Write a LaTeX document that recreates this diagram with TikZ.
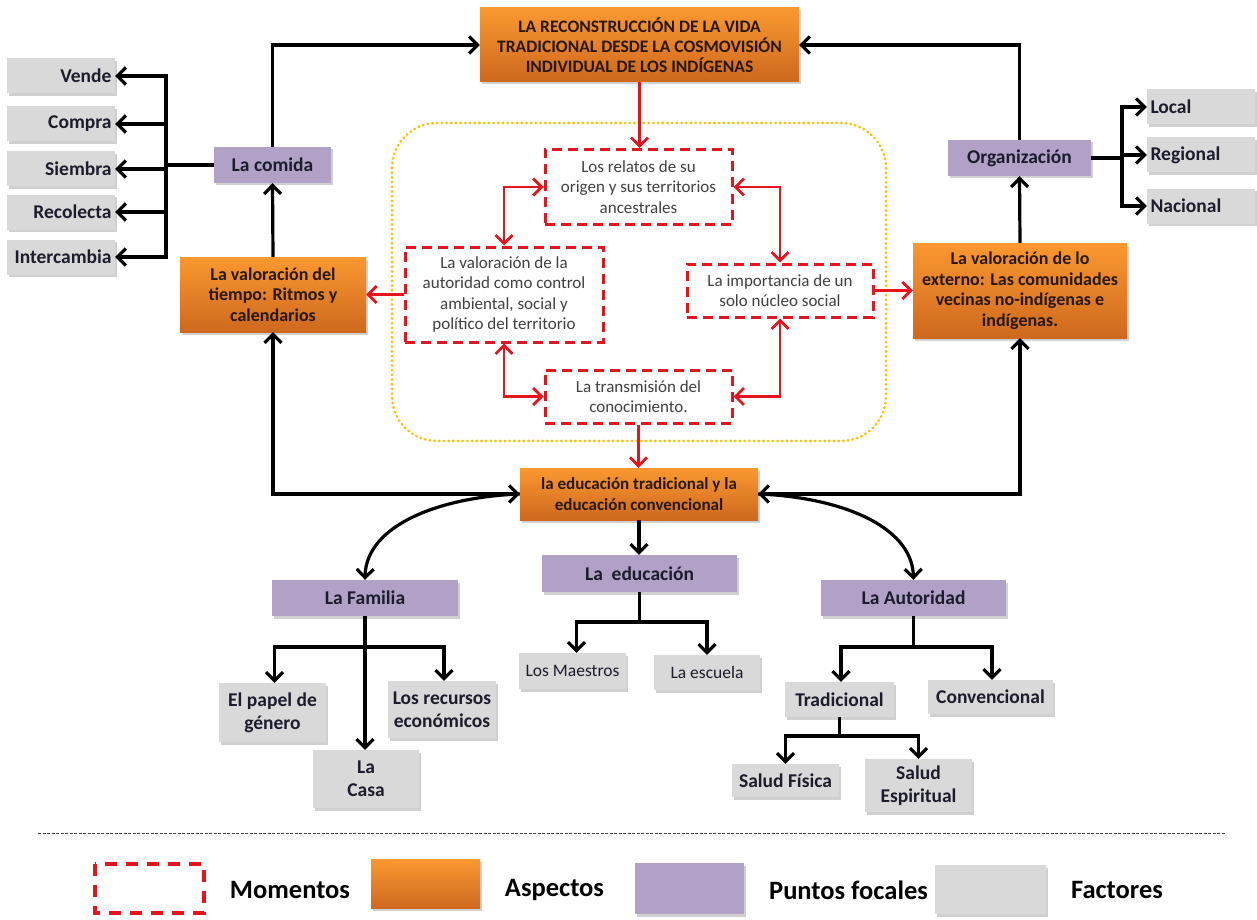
\documentclass[tikz,border=0pt]{standalone}
\usepackage{fontspec}
\setmainfont{Carlito}
\usetikzlibrary{arrows.meta,shadows}
\definecolor{or1}{RGB}{250,152,48}
\definecolor{or2}{RGB}{206,104,30}
\definecolor{purp}{RGB}{177,161,199}
\definecolor{gry}{RGB}{217,217,217}
\definecolor{red1}{RGB}{232,20,28}
\definecolor{yel}{RGB}{255,192,0}
\definecolor{txt}{RGB}{28,28,45}
\definecolor{txtO}{RGB}{40,25,15}
\definecolor{txtM}{RGB}{64,64,64}
\tikzset{
  shad/.style={drop shadow={shadow xshift=2pt,shadow yshift=-2.5pt,opacity=0.3,fill=black!60}},
  basebox/.style={inner sep=0pt, align=center, font=\bfseries\fontsize{19.5}{23}\selectfont, text=txt},
  aspect/.style={basebox, top color=or1, bottom color=or2, draw=none, shad, font=\bfseries\fontsize{18}{20.5}\selectfont, text=txtO},
  focal/.style={basebox, fill=purp, shad},
  factor/.style={basebox, fill=gry, shad},
  factorR/.style={factor, text width=101pt, inner xsep=3.5pt, align=right},
  factorL/.style={factor, text width=101pt, inner xsep=3.5pt, align=left},
  moment/.style={draw=red1, line width=3pt, dash pattern=on 10pt off 6pt, fill=white, inner sep=0pt, align=center, font=\fontsize{17}{20.5}\selectfont, text=txtM},
  blk/.style={line width=3.2pt, black, ->},
  blkb/.style={line width=3.2pt, black, <->},
  rd/.style={line width=2.8pt, red1, ->},
  rdb/.style={line width=2.8pt, red1, <->},
  legtxt/.style={font=\bfseries\fontsize{26.5}{30}\selectfont, text=black},
}
\begin{document}
\begin{tikzpicture}[x=1pt,y=-1pt,>={Straight Barb[length=8.5pt,width=17pt]}]
\useasboundingbox (0,0) rectangle (1257,920);
\fill[white] (0,0) rectangle (1257,920);

% yellow dotted frame
\draw[yel, line width=3pt, dash pattern=on 0.1pt off 4.6pt, line cap=round, rounded corners=45pt] (392,123) rectangle (886,441);

% aspects
\node[aspect, minimum width=319pt, minimum height=74pt, font=\bfseries\fontsize{17.5}{20}\selectfont] (top) at (639.5,45) {LA RECONSTRUCCIÓN DE LA VIDA\\TRADICIONAL DESDE LA COSMOVISIÓN\\INDIVIDUAL DE LOS INDÍGENAS};
\node[aspect, minimum width=186pt, minimum height=75pt] (tiempo) at (273,294.5) {La valoración del\\tiempo: Ritmos y\\calendarios};
\node[aspect, minimum width=214pt, minimum height=95pt] (externo) at (1020,290.5) {La valoración de lo\\externo: Las comunidades\\vecinas no-indígenas e\\indígenas.};
\node[aspect, minimum width=238pt, minimum height=52pt, font=\bfseries\fontsize{17}{20.5}\selectfont] (edu) at (639,494) {la educación tradicional y la\\educación convencional};

% moments
\node[moment, minimum width=187pt, minimum height=75pt] (relatos) at (638.5,187) {Los relatos de su\\origen y sus territorios\\ancestrales};
\node[moment, minimum width=198pt, minimum height=95pt] (autm) at (504,294.5) {La valoración de la\\autoridad como control\\ambiental, social y\\político del territorio};
\node[moment, minimum width=186pt, minimum height=53pt] (impo) at (780,290.5) {La importancia de un\\solo núcleo social};
\node[moment, minimum width=187pt, minimum height=53pt] (trans) at (638.5,396.5) {La transmisión del\\conocimiento.};

% focal points
\node[focal, minimum width=117pt, minimum height=36pt] (comida) at (272.5,165) {La comida};
\node[focal, minimum width=143pt, minimum height=36pt] (org) at (1019.5,158) {Organización};
\node[focal, minimum width=186pt, minimum height=36pt] (familia) at (365,598) {La Familia};
\node[focal, minimum width=195pt, minimum height=37pt] (educ) at (639.5,573.5) {La\ \ educación};
\node[focal, minimum width=185pt, minimum height=36pt] (autor) at (913.5,598) {La Autoridad};

% factors left
\node[factorR, minimum height=35pt] (vende) at (61,76) {Vende};
\node[factorR, minimum height=35pt] (compra) at (61,124) {Compra};
\node[factorR, minimum height=35pt] (siembra) at (61,169) {Siembra};
\node[factorR, minimum height=35pt] (recol) at (61,212) {Recolecta};
\node[factorR, minimum height=35pt] (inter) at (61,257) {Intercambia};
% factors right
\node[factorL, minimum height=35pt] (local) at (1201,107) {Local};
\node[factorL, minimum height=35pt] (regional) at (1201,155) {Regional};
\node[factorL, minimum height=35pt] (nacional) at (1201,206) {Nacional};
% factors bottom
\node[factor, minimum width=107pt, minimum height=59pt] (papel) at (272.5,712.5) {El papel de\\género};
\node[factor, minimum width=108pt, minimum height=57pt] (recursos) at (442,709.5) {Los recursos\\económicos};
\node[factor, minimum width=106pt, minimum height=58pt] (casa) at (366,779) {La\\Casa};
\node[factor, minimum width=107pt, minimum height=36pt, font=\fontsize{17.5}{20.5}\selectfont] (maestros) at (572.5,671) {Los Maestros};
\node[factor, minimum width=106pt, minimum height=35pt, font=\fontsize{17.5}{20.5}\selectfont] (escuela) at (707,672.5) {La escuela};
\node[factor, minimum width=109pt, minimum height=35pt] (tradic) at (839.5,699.5) {Tradicional};
\node[factor, minimum width=125pt, minimum height=34pt] (conven) at (990.5,697) {Convencional};
\node[factor, minimum width=107pt, minimum height=33pt] (sfis) at (785.5,780.5) {Salud Física};
\node[factor, minimum width=107pt, minimum height=53pt] (sesp) at (918.5,785.5) {Salud\\Espiritual};

% red connectors
\draw[rd] (top.south) -- (top.south |- relatos.north);
\draw[rdb] (relatos.west) -| (autm.north);
\draw[rdb] (relatos.east) -| (impo.north);
\draw[rdb] (autm.south) |- (trans.west);
\draw[rdb] (impo.south) |- (trans.east);
\draw[rd] (trans.south) -- (trans.south |- edu.north);
\draw[rd] (autm.west) -- (tiempo.east);
\draw[rd] (impo.east) -- (externo.west);

% black connectors
\draw[blk] (comida.north) |- (top.west);
\draw[blk] (org.north) |- (top.east);
\draw[blk] (tiempo.north) -- (comida.south);
\draw[blk] (externo.north) -- (org.south);
\draw[blkb] (tiempo.south) |- (edu.west);
\draw[blkb] (externo.south) |- (edu.east);

\coordinate (cj) at (166,165);
\foreach \f in {vende,compra,siembra,recol,inter}{
  \draw[blk] (comida.west) -- (cj) |- (\f.east);
}
\coordinate (oj) at (1122,158);
\foreach \f in {local,regional,nacional}{
  \draw[blk] (org.east) -- (oj) |- (\f.west);
}

\draw[blk] (edu.west) .. controls (440,497) and (366,525) .. (familia.north);
\draw[blk] (edu.east) .. controls (838,497) and (912,525) .. (autor.north);
\draw[blk] (edu.south) -- (edu.south |- educ.north);

\coordinate (fb) at (365,647);
\draw[blk] (familia.south) -- (familia.south |- casa.north);
\draw[blk] (familia.south) -- (fb) -| ([xshift=2pt]papel.north);
\draw[blk] (familia.south) -- (fb) -| ([xshift=2pt]recursos.north);

\coordinate (eb) at (639.5,622);
\draw[blk] (educ.south) -- (eb) -| ([xshift=4pt]maestros.north);
\draw[blk] (educ.south) -- (eb) -| (escuela.north);

\coordinate (ab) at (913.5,647);
\draw[blk] (autor.south) -- (ab) -| ([xshift=1.5pt]tradic.north);
\draw[blk] (autor.south) -- (ab) -| ([xshift=1.5pt]conven.north);

\coordinate (tb) at (839.5,736);
\draw[blk] (tradic.south) -- (tb) -| (sfis.north);
\draw[blk] (tradic.south) -- (tb) -| (sesp.north);

% legend
\draw[black!75, line width=0.8pt, dash pattern=on 3pt off 1.5pt] (38,833) -- (1225,833);
\draw[red1, line width=3.5pt, dash pattern=on 12pt off 9pt] (95,864) rectangle (204,913);
\node[legtxt] (lm) at (290,890) {Momentos};
\fill[top color=or1, bottom color=or2, shad] (371,859) rectangle (480,908);
\node[legtxt] (la) at (554.5,890) {Aspectos};
\fill[purp, shad] (635,863) rectangle (744,914);
\node[legtxt] (lp) at (848.5,890) {Puntos focales};
\fill[gry, shad] (935,865) rectangle (1046,914);
\node[legtxt] (lf) at (1117,890) {Factores};
\end{tikzpicture}
\end{document}
